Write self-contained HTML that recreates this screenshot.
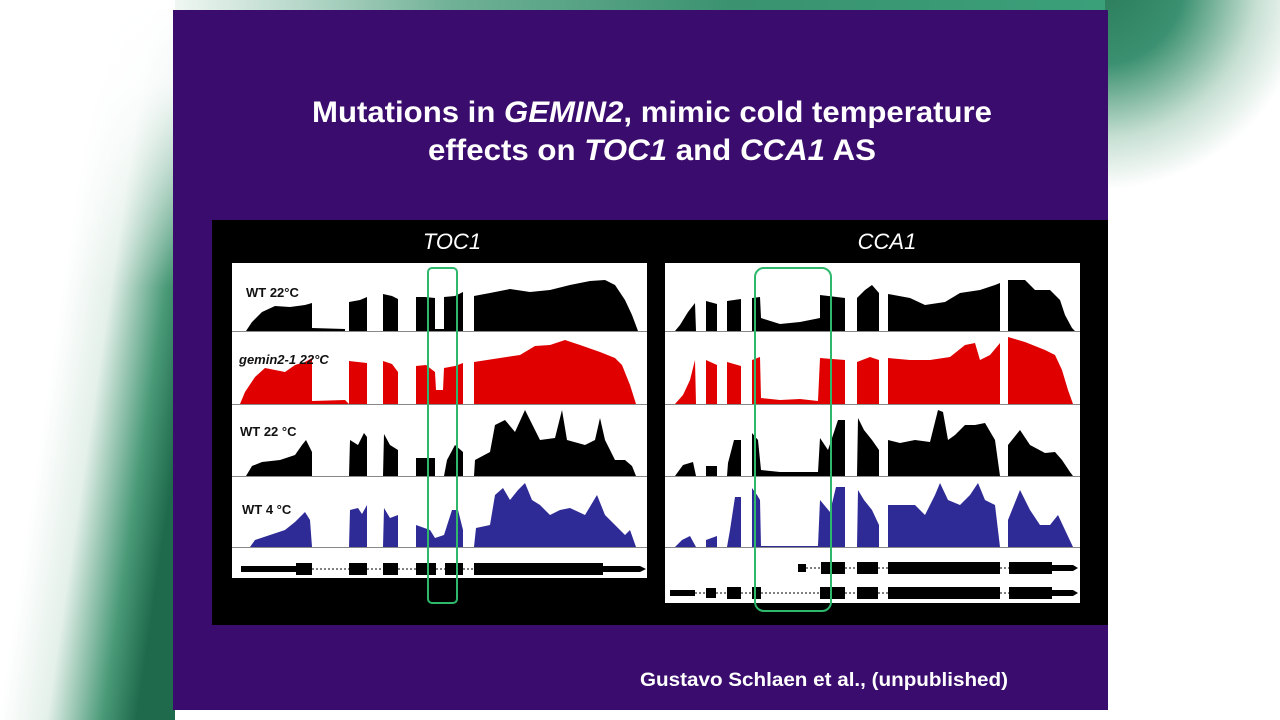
<!DOCTYPE html>
<html><head><meta charset="utf-8"><style>html,body{margin:0;padding:0;background:#fff;width:1280px;height:720px;overflow:hidden}</style></head><body>
<svg width="1280" height="720" viewBox="0 0 1280 720" xmlns="http://www.w3.org/2000/svg" font-family="Liberation Sans, Arial, sans-serif">
<defs>
<linearGradient id="lg" gradientUnits="userSpaceOnUse" x1="40" y1="440" x2="175" y2="460">
<stop offset="0" stop-color="#fff"/><stop offset="0.35" stop-color="#e4f0ea"/><stop offset="0.75" stop-color="#4a9a78"/><stop offset="1" stop-color="#1f6a4c"/></linearGradient>
<linearGradient id="lw" x1="0" y1="0" x2="0" y2="1"><stop offset="0" stop-color="#fff" stop-opacity="1"/><stop offset="0.12" stop-color="#fff" stop-opacity="0.9"/><stop offset="0.4" stop-color="#fff" stop-opacity="0"/></linearGradient>
<linearGradient id="tg" x1="0" y1="0" x2="1" y2="0"><stop offset="0" stop-color="#f0f7f3"/><stop offset="0.3" stop-color="#6fb096"/><stop offset="0.6" stop-color="#3a9270"/><stop offset="1" stop-color="#3aa07a"/></linearGradient>
<radialGradient id="rg" gradientUnits="userSpaceOnUse" cx="1100" cy="-20" r="210"><stop offset="0" stop-color="#2a7a58"/><stop offset="0.4" stop-color="#3a9070"/><stop offset="0.75" stop-color="#c6dfd3"/><stop offset="1" stop-color="#fff"/></radialGradient>
</defs>
<rect x="0" y="0" width="1280" height="720" fill="#fff"/>
<rect x="0" y="0" width="175" height="720" fill="url(#lg)"/>
<rect x="0" y="0" width="175" height="720" fill="url(#lw)"/>
<rect x="1100" y="0" width="180" height="720" fill="url(#rg)"/>
<rect x="175" y="0" width="930" height="12" fill="url(#tg)"/>
<rect x="173" y="10" width="935" height="700" fill="#3a0c6e"/>
<text x="652" y="122" fill="#fff" font-weight="bold" font-size="30" text-anchor="middle" textLength="680" lengthAdjust="spacingAndGlyphs">Mutations in <tspan font-style="italic">GEMIN2</tspan>, mimic cold temperature</text>
<text x="652" y="160" fill="#fff" font-weight="bold" font-size="30" text-anchor="middle" textLength="448" lengthAdjust="spacingAndGlyphs">effects on <tspan font-style="italic">TOC1</tspan> and <tspan font-style="italic">CCA1</tspan> AS</text>
<rect x="212" y="220" width="896" height="405" fill="#000"/>
<text x="452" y="249" fill="#fff" font-style="italic" font-size="22" text-anchor="middle">TOC1</text>
<text x="887" y="249" fill="#fff" font-style="italic" font-size="22" text-anchor="middle">CCA1</text>
<rect x="232" y="263" width="415" height="315" fill="#fff"/>
<rect x="665" y="263" width="415" height="340" fill="#fff"/>
<g stroke="#888" stroke-width="1">
<line x1="232" y1="331.5" x2="647" y2="331.5"/><line x1="232" y1="404.5" x2="647" y2="404.5"/><line x1="232" y1="476.5" x2="647" y2="476.5"/><line x1="232" y1="547.5" x2="647" y2="547.5"/>
<line x1="665" y1="331.5" x2="1080" y2="331.5"/><line x1="665" y1="404.5" x2="1080" y2="404.5"/><line x1="665" y1="476.5" x2="1080" y2="476.5"/><line x1="665" y1="547.5" x2="1080" y2="547.5"/>
</g>
<!-- TOC1 -->
<g fill="#000">
<path d="M246 331 L252 322 L262 312 L275 306 L290 307 L305 305 L312 303 L312 331Z M312 331 L312 328 L345 329 L345 331Z M349 331 L349 302 L360 300 L367 297 L367 331Z M383 331 L383 294 L392 296 L398 299 L398 331Z M416 331 L416 297 L425 297 L435 298 L435 329 L444 329 L444 297 L455 296 L463 292 L463 331Z M474 331 L474 296 L490 293 L510 289 L530 292 L550 290 L570 285 L590 281 L605 280 L615 285 L625 300 L632 315 L638 331Z"/>
<path d="M246 476 L252 466 L262 462 L280 460 L295 455 L302 445 L306 440 L312 452 L312 476Z M349 476 L350 440 L358 445 L364 433 L367 437 L367 476Z M383 476 L384 434 L390 445 L398 450 L398 476Z M416 476 L416 458 L435 458 L435 476Z M444 476 L447 460 L455 445 L463 452 L463 476Z M474 476 L475 460 L490 452 L495 425 L505 420 L515 432 L525 410 L530 420 L540 440 L555 438 L562 410 L567 440 L585 445 L595 440 L600 418 L605 440 L615 460 L625 460 L632 466 L636 476Z"/>
</g>
<path fill="#e00000" d="M240 404 L245 392 L255 377 L265 368 L275 370 L285 372 L295 365 L305 362 L312 358 L312 404Z M312 404 L312 401 L345 400 L349 404Z M349 404 L349 361 L367 363 L367 404Z M383 404 L383 361 L392 364 L398 372 L398 404Z M416 404 L416 366 L426 365 L435 372 L436 390 L443 390 L444 368 L455 366 L463 363 L463 404Z M474 404 L474 362 L500 358 L520 355 L535 346 L550 345 L565 340 L580 345 L600 352 L615 358 L622 365 L630 385 L636 404Z"/>
<path fill="#2e2a96" d="M250 547 L255 540 L270 535 L285 530 L295 522 L305 512 L310 520 L312 547Z M349 547 L350 510 L358 508 L362 514 L367 505 L367 547Z M383 547 L384 508 L390 518 L398 515 L398 547Z M416 547 L416 525 L430 530 L435 538 L444 535 L452 510 L458 510 L463 530 L463 547Z M474 547 L476 528 L490 525 L495 495 L503 488 L510 500 L518 490 L525 483 L532 500 L540 505 L550 515 L560 510 L570 508 L585 515 L597 495 L605 515 L615 525 L625 535 L630 530 L636 547Z"/>
<g font-weight="bold" font-size="13" fill="#111">
<text x="246" y="297">WT 22°C</text>
<text x="239" y="364" font-style="italic">gemin2-1 22°C</text>
<text x="240" y="436">WT 22 °C</text>
<text x="242" y="514">WT 4 °C</text>
</g>
<g fill="#000">
<rect x="241" y="566" width="56" height="6"/>
<rect x="296" y="563" width="16" height="12"/><rect x="349" y="563" width="18" height="12"/><rect x="383" y="563" width="15" height="12"/><rect x="416" y="563" width="20" height="12"/><rect x="445" y="563" width="18" height="12"/><rect x="474" y="563" width="129" height="12"/>
<path d="M603 566 L640 566 L646 569 L640 572 L603 572Z"/>
</g>
<g stroke="#000" stroke-width="1" stroke-dasharray="2,2"><line x1="312" y1="569" x2="349" y2="569"/><line x1="367" y1="569" x2="383" y2="569"/><line x1="398" y1="569" x2="416" y2="569"/><line x1="436" y1="569" x2="445" y2="569"/><line x1="463" y1="569" x2="474" y2="569"/></g>
<!-- CCA1 -->
<path fill="#000" d="M675 331 L680 325 L688 312 L695 303 L696 331Z M706 331 L706 301 L717 304 L717 331Z M727 331 L727 301 L741 299 L741 331Z M752 331 L752 298 L760 297 L761 318 L780 324 L800 322 L820 318 L820 295 L845 298 L845 331Z M857 331 L857 298 L865 290 L872 285 L879 293 L879 331Z M888 331 L888 294 L910 298 L925 305 L945 302 L960 293 L980 290 L995 285 L1000 283 L1000 331Z M1008 331 L1008 280 L1025 280 L1035 290 L1050 290 L1060 300 L1065 315 L1072 328 L1075 331Z"/>
<path fill="#e00000" d="M675 404 L683 395 L690 380 L695 360 L696 404Z M706 404 L706 360 L717 365 L717 404Z M727 404 L727 362 L741 366 L741 404Z M752 404 L752 360 L760 357 L761 398 L780 400 L800 399 L818 401 L820 358 L845 360 L845 404Z M857 404 L857 362 L870 357 L879 360 L879 404Z M888 404 L888 358 L910 360 L930 360 L950 357 L965 345 L975 343 L980 360 L990 355 L1000 343 L1000 404Z M1008 404 L1008 337 L1025 342 L1045 350 L1055 355 L1062 370 L1068 390 L1073 404Z"/>
<path fill="#000" d="M675 476 L683 465 L693 462 L696 476Z M706 476 L706 466 L717 466 L717 476Z M727 476 L728 463 L734 440 L741 440 L741 476Z M752 476 L752 433 L758 440 L761 470 L780 472 L800 472 L818 472 L820 438 L828 450 L838 420 L845 420 L845 476Z M857 476 L858 418 L864 430 L872 440 L879 450 L879 476Z M888 476 L888 440 L900 443 L915 440 L930 442 L938 410 L943 412 L948 440 L955 435 L965 425 L975 425 L985 423 L995 440 L1000 476Z M1008 476 L1008 445 L1020 430 L1030 445 L1045 453 L1055 452 L1062 460 L1070 472 L1073 476Z"/>
<path fill="#2e2a96" d="M675 547 L682 540 L690 536 L696 547Z M706 547 L706 540 L717 536 L717 547Z M727 547 L730 530 L735 497 L741 497 L741 547Z M752 547 L752 488 L757 495 L760 500 L761 546 L818 546 L820 500 L830 512 L836 487 L845 487 L845 547Z M857 547 L858 490 L864 500 L872 510 L879 525 L879 547Z M888 547 L888 505 L900 505 L915 505 L925 515 L935 495 L940 483 L948 500 L960 505 L970 495 L978 483 L985 500 L995 505 L1000 547Z M1008 547 L1008 520 L1020 490 L1030 510 L1040 525 L1050 525 L1058 515 L1065 530 L1073 547Z"/>
<g fill="#000">
<rect x="798" y="564" width="8" height="8"/><rect x="821" y="562" width="24" height="12"/><rect x="857" y="562" width="21" height="12"/><rect x="888" y="562" width="112" height="12"/><rect x="1009" y="562" width="43" height="12"/>
<path d="M1052 565 L1073 565 L1078 568 L1073 571 L1052 571Z"/>
<rect x="670" y="590" width="25" height="6"/><rect x="706" y="588" width="10" height="10"/><rect x="727" y="587" width="14" height="12"/><rect x="752" y="587" width="9" height="12"/><rect x="820" y="587" width="25" height="12"/><rect x="857" y="587" width="21" height="12"/><rect x="888" y="587" width="112" height="12"/><rect x="1009" y="587" width="43" height="12"/>
<path d="M1052 590 L1073 590 L1078 593 L1073 596 L1052 596Z"/>
</g>
<g stroke="#000" stroke-width="1" stroke-dasharray="2,2"><line x1="806" y1="568" x2="821" y2="568"/><line x1="845" y1="568" x2="857" y2="568"/><line x1="878" y1="568" x2="888" y2="568"/><line x1="1000" y1="568" x2="1009" y2="568"/>
<line x1="695" y1="593" x2="706" y2="593"/><line x1="716" y1="593" x2="727" y2="593"/><line x1="741" y1="593" x2="752" y2="593"/><line x1="761" y1="593" x2="820" y2="593"/><line x1="845" y1="593" x2="857" y2="593"/><line x1="878" y1="593" x2="888" y2="593"/><line x1="1000" y1="593" x2="1009" y2="593"/></g>
<!-- green boxes -->
<rect x="428" y="268" width="29" height="335" rx="4" fill="none" stroke="#2db86c" stroke-width="2"/>
<rect x="755" y="268" width="76" height="343" rx="9" fill="none" stroke="#2db86c" stroke-width="2"/>
<text x="1008" y="686" fill="#fff" font-weight="bold" font-size="19" text-anchor="end" textLength="368" lengthAdjust="spacingAndGlyphs">Gustavo Schlaen et al., (unpublished)</text>
</svg>
</body></html>
